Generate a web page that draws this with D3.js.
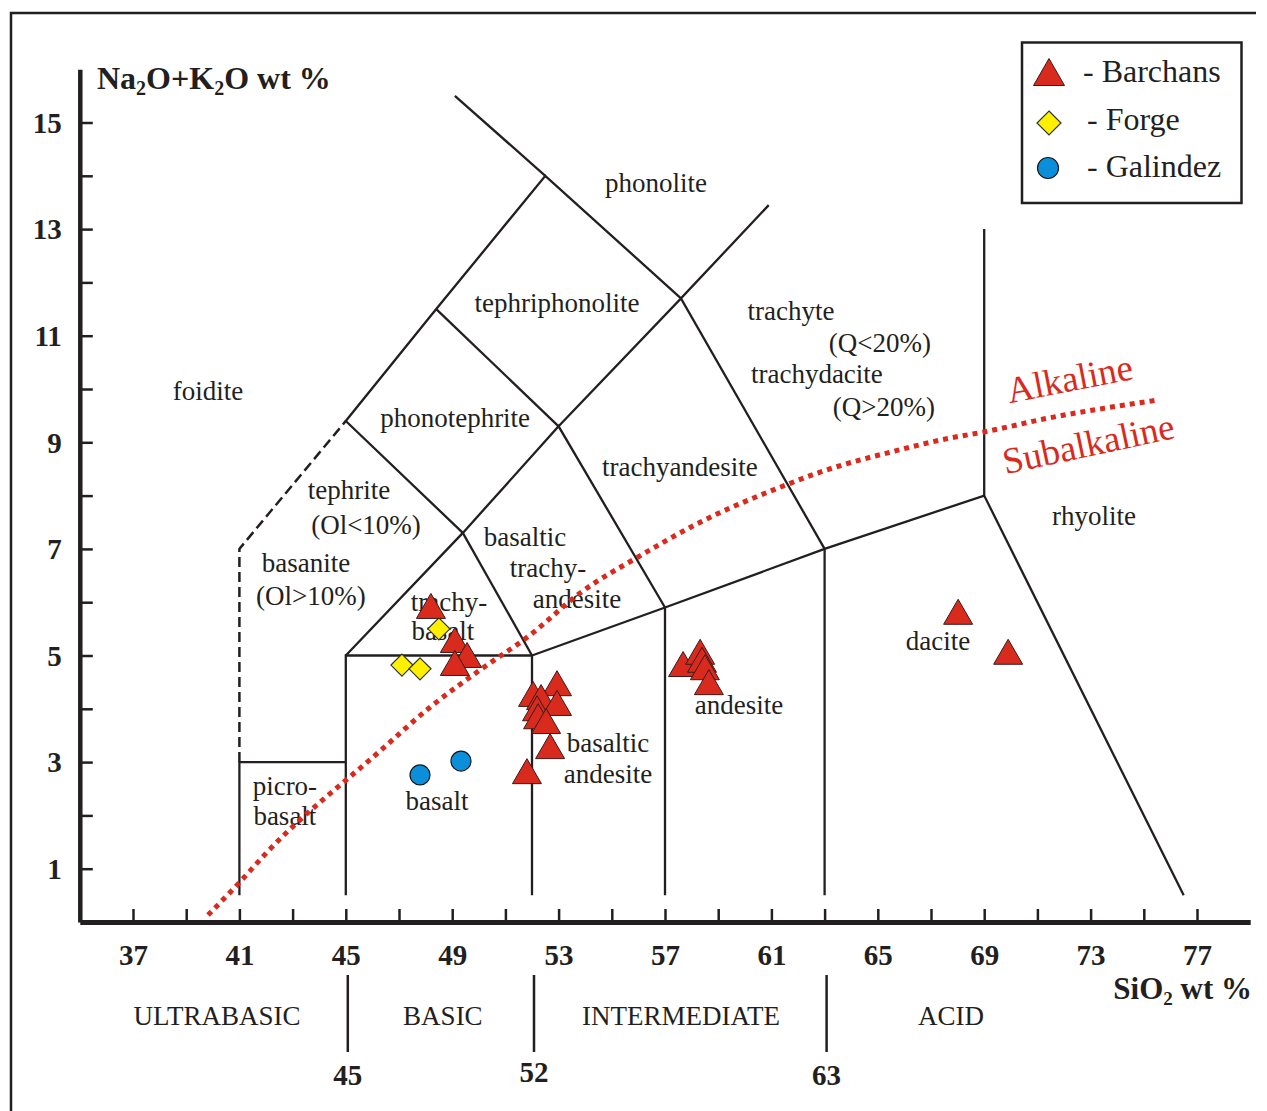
<!DOCTYPE html>
<html>
<head>
<meta charset="utf-8">
<script src="https://cdn.jsdelivr.net/npm/d3@7/dist/d3.min.js"></script>
<style>
  html, body { margin: 0; padding: 0; background: #fff; }
  svg { display: block; }
  text { font-family: "Liberation Serif", "Times New Roman", serif; fill: #231f20; }
</style>
</head>
<body>
<svg id="chart" width="1267" height="1111"></svg>
<script>
// ---------------- DATA ----------------
const xTickValues = d3.range(37, 78, 2);
const xTickLabels = [37, 41, 45, 49, 53, 57, 61, 65, 69, 73, 77];
const yTickValues = d3.range(1, 16, 1);
const yTickLabels = [1, 3, 5, 7, 9, 11, 13, 15];

// Barchans (SiO2, Na2O+K2O)
const barchansSiO2 = [48.2, 49.1, 49.56, 49.1, 52.94, 52.04, 52.34, 52.94, 52.19, 52.23, 52.53, 52.68, 51.81, 57.68, 58.32, 58.39, 58.5, 58.65, 68.02, 69.9];
const barchansAlk  = [5.93, 5.29, 5.01, 4.86, 4.48, 4.28, 4.22, 4.11, 4.01, 3.86, 3.77, 3.30, 2.83, 4.84, 5.07, 4.92, 4.78, 4.50, 5.82, 5.07];
// Forge
const forgeSiO2 = [48.5, 47.11, 47.79];
const forgeAlk  = [5.5, 4.82, 4.75];
// Galindez
const galindezSiO2 = [47.79, 49.33];
const galindezAlk  = [2.76, 3.02];

// TAS field boundaries (solid)
const solidBoundaries = [
  [[41, 0.5], [41, 3], [45, 3]],
  [[45, 0.5], [45, 5], [52, 5], [52, 0.5]],
  [[52, 5], [57, 5.9], [63, 7], [69, 8], [76.5, 0.5]],
  [[57, 0.5], [57, 5.9], [53, 9.3], [49.4, 7.3], [45, 5]],
  [[63, 0.5], [63, 7], [57.6, 11.7], [53, 9.3]],
  [[49.4, 7.3], [52, 5]],
  [[49.4, 7.3], [45, 9.4], [48.4, 11.5], [52.5, 14], [57.6, 11.7], [60.9, 13.45]],
  [[48.4, 11.5], [53, 9.3]],
  [[49.1, 15.5], [52.5, 14]],
  [[69, 8], [69, 13]]
];
// dashed boundaries
const dashedBoundaries = [
  [[41, 3], [41, 7], [45, 9.4]]
];
// Alkaline / Subalkaline divide
const divideSiO2 = [39.82, 40.98, 42.04, 46.29, 48.17, 50.05, 51.92, 53.80, 56.06, 58.32, 61.55, 62.83, 65.83, 67.71, 68.95, 71.47, 75.50];
const divideAlk  = [0.13, 0.73, 1.31, 3.21, 4.03, 4.73, 5.38, 6.17, 6.87, 7.50, 8.20, 8.44, 8.86, 9.08, 9.19, 9.46, 9.79];

// Field names: [text, SiO2, Na2O+K2O (baseline)]
const fieldNames = [
  ["phonolite", 56.66, 13.70],
  ["tephriphonolite", 52.94, 11.44],
  ["foidite", 39.82, 9.79],
  ["phonotephrite", 49.11, 9.29],
  ["trachyte", 61.74, 11.29],
  ["(Q<20%)", 65.08, 10.69],
  ["trachydacite", 62.71, 10.11],
  ["(Q>20%)", 65.23, 9.49],
  ["trachyandesite", 57.56, 8.37],
  ["tephrite", 45.12, 7.94],
  ["(Ol<10%)", 45.76, 7.28],
  ["basanite", 43.50, 6.57],
  ["(Ol>10%)", 43.69, 5.95],
  ["basaltic", 51.74, 7.05],
  ["trachy-", 52.60, 6.47],
  ["andesite", 53.69, 5.89],
  ["trachy-", 48.88, 5.83],
  ["basalt", 48.65, 5.29],
  ["rhyolite", 73.13, 7.45],
  ["dacite", 67.26, 5.10],
  ["andesite", 59.78, 3.90],
  ["basaltic", 54.86, 3.19],
  ["andesite", 54.86, 2.61],
  ["picro-", 42.71, 2.38],
  ["basalt", 42.71, 1.82],
  ["basalt", 48.43, 2.10]
];

// Rock class bands below the axis
const classNames = ["ULTRABASIC", "BASIC", "INTERMEDIATE", "ACID"];
const classCenters = [40.16, 48.65, 57.6, 67.75];
const classLimits = [45, 52, 63];

const seriesNames = ["- Barchans", "- Forge", "- Galindez"];

// ---------------- CHART ----------------
const svg = d3.select("#chart");
const x = d3.scaleLinear().domain([35, 79]).range([79.8, 1250.2]);
const y = d3.scaleLinear().domain([0, 16]).range([922, 69.2]);

const RED = "#d92a1e";
const INK = "#231f20";

// outer frame (left and top)
svg.append("path")
  .attr("d", "M11,1111 L11,13 L1256,13")
  .attr("fill", "none").attr("stroke", INK).attr("stroke-width", 2.5);

// Axes
const xAxis = d3.axisBottom(x).tickValues(xTickValues).tickSizeInner(-13).tickSizeOuter(0)
  .tickFormat(d => xTickLabels.includes(d) ? d : "");
const gx = svg.append("g").attr("transform", `translate(0,${y(0)})`).call(xAxis);
gx.select(".domain").attr("stroke", INK).attr("stroke-width", 5);
gx.selectAll(".tick line").attr("stroke", INK).attr("stroke-width", 2.5);
gx.selectAll(".tick text").attr("y", 43).attr("dy", 0)
  .attr("font-family", "Liberation Serif").attr("font-weight", "bold")
  .attr("font-size", 29).attr("fill", INK);

const yAxis = d3.axisLeft(y).tickValues(yTickValues).tickSizeInner(-13).tickSizeOuter(0)
  .tickFormat(d => yTickLabels.includes(d) ? d : "");
const gy = svg.append("g").attr("transform", `translate(${x(35)},0)`).call(yAxis);
gy.select(".domain").attr("stroke", INK).attr("stroke-width", 4.5);
gy.selectAll(".tick line").attr("stroke", INK).attr("stroke-width", 2.5);
gy.selectAll(".tick text").attr("x", -18).attr("dy", "0.34em")
  .attr("font-family", "Liberation Serif").attr("font-weight", "bold")
  .attr("font-size", 29).attr("fill", INK).attr("text-anchor", "end");

// Axis titles
const yt = svg.append("text").attr("x", 97).attr("y", 89)
  .attr("font-weight", "bold").attr("font-size", 32);
yt.append("tspan").text("Na");
yt.append("tspan").text("2").attr("font-size", 20).attr("dy", 6);
yt.append("tspan").text("O+K").attr("dy", -6);
yt.append("tspan").text("2").attr("font-size", 20).attr("dy", 6);
yt.append("tspan").text("O wt %").attr("dy", -6);

const xt = svg.append("text").attr("x", 1252).attr("y", 999)
  .attr("font-weight", "bold").attr("font-size", 31).attr("text-anchor", "end");
xt.append("tspan").text("SiO");
xt.append("tspan").text("2").attr("font-size", 19).attr("dy", 6);
xt.append("tspan").text(" wt %").attr("dy", -6);

// Boundaries
const line = d3.line().x(d => x(d[0])).y(d => y(d[1]));
svg.append("g").selectAll("path").data(solidBoundaries).join("path")
  .attr("d", line).attr("fill", "none").attr("stroke", INK)
  .attr("stroke-width", 2.3).attr("stroke-linejoin", "miter");
svg.append("g").selectAll("path").data(dashedBoundaries).join("path")
  .attr("d", line).attr("fill", "none").attr("stroke", INK)
  .attr("stroke-width", 2.5).attr("stroke-dasharray", "10,5");

// Field names
svg.append("g").selectAll("text").data(fieldNames).join("text")
  .attr("x", d => x(d[1])).attr("y", d => y(d[2]))
  .attr("text-anchor", "middle").attr("font-size", 27)
  .text(d => d[0]);

// Alkaline / Subalkaline divide
const divide = divideSiO2.map((v, i) => [v, divideAlk[i]]);
svg.append("path").datum(divide)
  .attr("d", d3.line().x(d => x(d[0])).y(d => y(d[1])).curve(d3.curveMonotoneX))
  .attr("fill", "none").attr("stroke", RED).attr("stroke-width", 5)
  .attr("stroke-dasharray", "5,5");

svg.append("text").attr("transform", "translate(1072,391) rotate(-11)")
  .attr("text-anchor", "middle").attr("font-size", 37).style("fill", RED).text("Alkaline");
svg.append("text").attr("transform", "translate(1091,456) rotate(-12)")
  .attr("text-anchor", "middle").attr("font-size", 37).style("fill", RED).text("Subalkaline");

// Rock classes under the axis
svg.append("g").selectAll("text").data(classNames).join("text")
  .attr("x", (d, i) => x(classCenters[i])).attr("y", 1025)
  .attr("text-anchor", "middle").attr("font-size", 27).text(d => d);
svg.append("g").selectAll("line").data(classLimits).join("line")
  .attr("x1", d => x(d) + 2).attr("x2", d => x(d) + 2)
  .attr("y1", 975).attr("y2", 1052)
  .attr("stroke", INK).attr("stroke-width", 2.5);
svg.append("g").selectAll("text").data(classLimits).join("text")
  .attr("x", d => x(d) + 2).attr("y", (d, i) => i === 1 ? 1082 : 1085)
  .attr("text-anchor", "middle").attr("font-weight", "bold").attr("font-size", 29)
  .text(d => d);

// Marker shapes
const triangleType = (w, h) => ({
  draw(ctx) {
    ctx.moveTo(0, -h / 2);
    ctx.lineTo(w / 2, h / 2);
    ctx.lineTo(-w / 2, h / 2);
    ctx.closePath();
  }
});
const diamondType = (w) => ({
  draw(ctx) {
    ctx.moveTo(0, -w / 2);
    ctx.lineTo(w / 2, 0);
    ctx.lineTo(0, w / 2);
    ctx.lineTo(-w / 2, 0);
    ctx.closePath();
  }
});

// Galindez circles
svg.append("g").selectAll("circle").data(galindezSiO2.map((v, i) => [v, galindezAlk[i]])).join("circle")
  .attr("cx", d => x(d[0])).attr("cy", d => y(d[1])).attr("r", 10)
  .attr("fill", "#0b8fdb").attr("stroke", "#1a1a1a").attr("stroke-width", 1.2);

// Forge diamonds
svg.append("g").selectAll("path").data(forgeSiO2.map((v, i) => [v, forgeAlk[i]])).join("path")
  .attr("transform", d => `translate(${x(d[0])},${y(d[1])})`)
  .attr("d", d3.symbol().type(diamondType(22)))
  .attr("fill", "#fff000").attr("stroke", "#333").attr("stroke-width", 1.2);

// Barchans triangles
svg.append("g").selectAll("path").data(barchansSiO2.map((v, i) => [v, barchansAlk[i]])).join("path")
  .attr("transform", d => `translate(${x(d[0])},${y(d[1])})`)
  .attr("d", d3.symbol().type(triangleType(29, 25)))
  .attr("fill", RED).attr("stroke", "#3a1a1a").attr("stroke-width", 1);

// Legend
const lg = svg.append("g");
lg.append("rect").attr("x", 1022).attr("y", 42.5).attr("width", 219.5).attr("height", 160.5)
  .attr("fill", "#fff").attr("stroke", INK).attr("stroke-width", 2.5);
lg.append("path").attr("transform", "translate(1049,72)")
  .attr("d", d3.symbol().type(triangleType(31, 27)))
  .attr("fill", RED).attr("stroke", "#3a1a1a").attr("stroke-width", 1);
lg.append("path").attr("transform", "translate(1049,123)")
  .attr("d", d3.symbol().type(diamondType(24)))
  .attr("fill", "#fff000").attr("stroke", "#333").attr("stroke-width", 1.2);
lg.append("circle").attr("cx", 1048).attr("cy", 168).attr("r", 10.5)
  .attr("fill", "#0b8fdb").attr("stroke", "#1a1a1a").attr("stroke-width", 1.2);
lg.selectAll("text.lab").data(seriesNames).join("text").attr("class", "lab")
  .attr("x", (d, i) => i === 0 ? 1083 : 1087)
  .attr("y", (d, i) => [82, 130, 177][i])
  .attr("font-size", 32).text(d => d);
</script>
</body>
</html>
